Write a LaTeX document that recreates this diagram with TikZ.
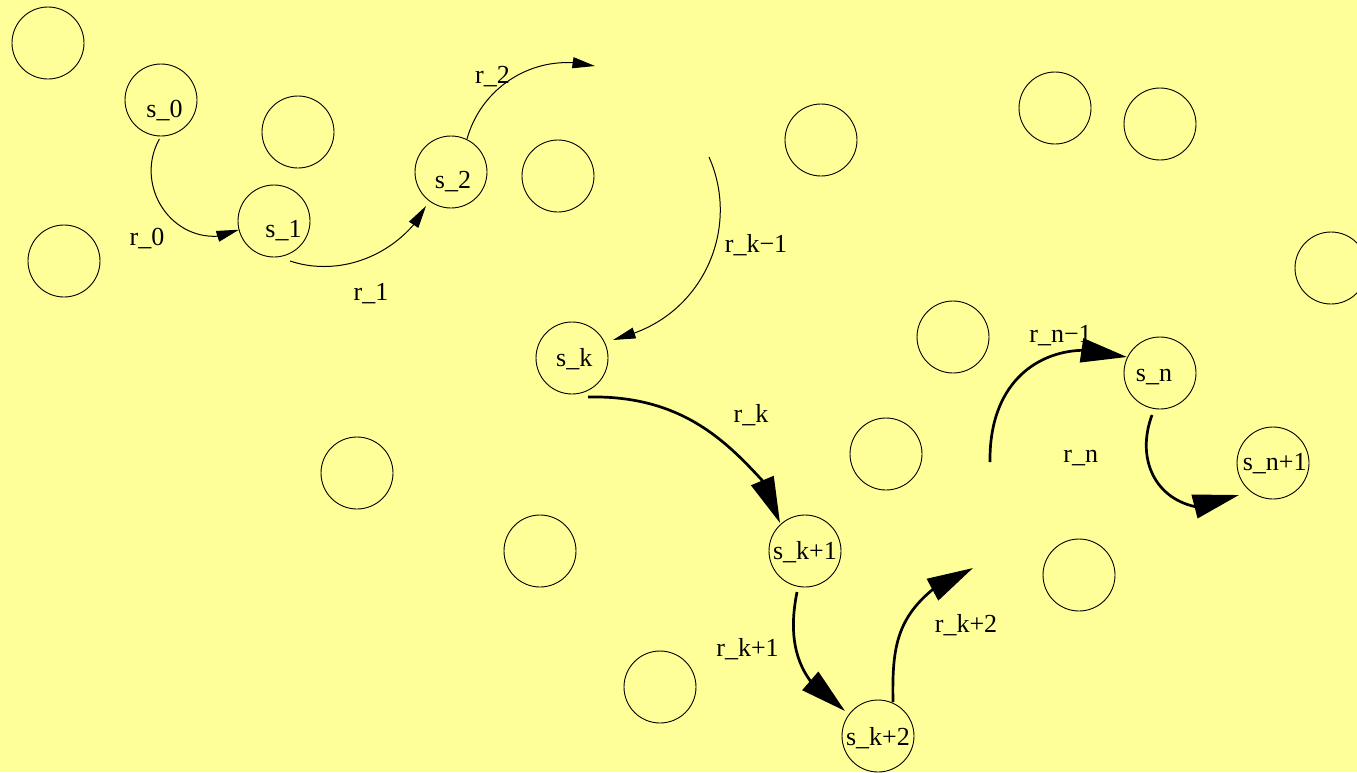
\documentclass[tikz,border=0pt]{standalone}
\usepackage{fontspec}
\setmainfont{Liberation Serif}
\usetikzlibrary{arrows.meta}
\definecolor{bgyellow}{RGB}{255,255,153}
\tikzset{
  state/.style={circle, draw=black, line width=0.9pt, minimum size=72pt, inner sep=0pt, outer sep=0pt},
  lbl/.style={anchor=base, inner sep=0pt, font=\fontsize{26}{31}\selectfont},
  thinarrow/.style={line width=1pt, -{Triangle[length=22.5pt,width=11pt]}},
  thickarrow/.style={line width=2.7pt, -{Triangle[length=46pt,width=24pt]}}
}
\begin{document}
\begin{tikzpicture}[x=1pt,y=-1pt]
\useasboundingbox (0,0) rectangle (1357,772);
\fill[bgyellow] (0,0) rectangle (1357,772);

% empty circles
\node[state] (e1) at (48,43) {};
\node[state] (e2) at (298,132) {};
\node[state] (e3) at (64,261) {};
\node[state] (e4) at (558,176) {};
\node[state] (e5) at (821,140) {};
\node[state] (e6) at (1055,108) {};
\node[state] (e7) at (1160,124) {};
\node[state] (e8) at (1331,268) {};
\node[state] (e9) at (953,337) {};
\node[state] (e10) at (886,454) {};
\node[state] (e11) at (357,473) {};
\node[state] (e12) at (540,551) {};
\node[state] (e13) at (660,687) {};
\node[state] (e14) at (1079,575) {};

% state circles
\node[state] (s0) at (161,100) {};
\node[state] (s1) at (274,221) {};
\node[state] (s2) at (451,172) {};
\node[state] (sk) at (572,358) {};
\node[state] (sk1) at (805,551) {};
\node[state] (sk2) at (878,736) {};
\node[state] (sn) at (1160,373) {};
\node[state] (sn1) at (1273,463) {};

% state labels
\node[lbl] (ts0) at (164.5,117) {s\_0};
\node[lbl] (ts1) at (283.5,237) {s\_1};
\node[lbl] (ts2) at (453,188) {s\_2};
\node[lbl] (tsk) at (574.3,366.7) {s\_k};
\node[lbl] (tsk1) at (805,559) {s\_k+1};
\node[lbl] (tsk2) at (878,745) {s\_k+2};
\node[lbl] (tsn) at (1154,381.5) {s\_n};
\node[lbl] (tsn1) at (1274.7,470.7) {s\_n+1};

% edge labels
\node[lbl] (tr0) at (147,245) {r\_0};
\node[lbl] (tr1) at (371,300) {r\_1};
\node[lbl] (tr2) at (492.5,83) {r\_2};
\node[lbl] (trkm) at (756,252) {r\_k−1};
\node[lbl] (trk) at (751,422) {r\_k};
\node[lbl] (trk1) at (747.5,656) {r\_k+1};
\node[lbl] (trk2) at (966,632) {r\_k+2};
\node[lbl] (trnm) at (1060.5,342) {r\_n−1};
\node[lbl] (trn) at (1080.8,462) {r\_n};

% free ends
\coordinate (r2tip) at (595,66);
\coordinate (rkmstart) at (709,157);
\coordinate (rk2tip) at (973,568);
\coordinate (rnmstart) at (990,462);

% thin arrows
\draw[thinarrow, shorten <=3.5pt] (s0.south) .. controls (134.8,183.6) and (168.4,239.2) .. (218,236.2) -- ([shift={(-35,8.7)}]s1.center);
\draw[thinarrow] ([shift={(16,40)}]s1.center) .. controls (334.3,275.8) and (383.5,259.8) .. (413.9,224.4) -- ([shift={(-25,34)}]s2.center);
\draw[thinarrow] ([shift={(16,-33)}]s2.center) .. controls (480,92) and (524,60.1) .. (572.7,62.7) -- (r2tip);
\draw[thinarrow] (rkmstart) .. controls (739.7,226) and (705.4,307.4) .. (634.4,333) -- ([shift={(41,-18)}]sk.center);

% thick arrows
\draw[thickarrow] ([shift={(16,39)}]sk.center) .. controls (680,395) and (725,440) .. (762.3,480.5) -- ([shift={(-25,-28)}]sk1.center);
\draw[thickarrow] ([shift={(-8,41)}]sk1.center) .. controls (790,627) and (792.6,656.6) .. (810.3,680.9) -- ([shift={(-33,-25)}]sk2.center);
\draw[thickarrow] ([shift={(15,-34)}]sk2.center) .. controls (892,650) and (896,620) .. (932.4,589.7) -- (rk2tip);
\draw[thickarrow] (rnmstart) .. controls (989,385) and (1035,352) .. (1081.3,350.3) -- ([shift={(-33,-16)}]sn.center);
\draw[thickarrow] ([shift={(-8,42)}]sn.center) .. controls (1136.3,457.2) and (1153.6,497.1) .. (1194.5,506.5) -- ([shift={(-34,32)}]sn1.center);
\end{tikzpicture}
\end{document}
